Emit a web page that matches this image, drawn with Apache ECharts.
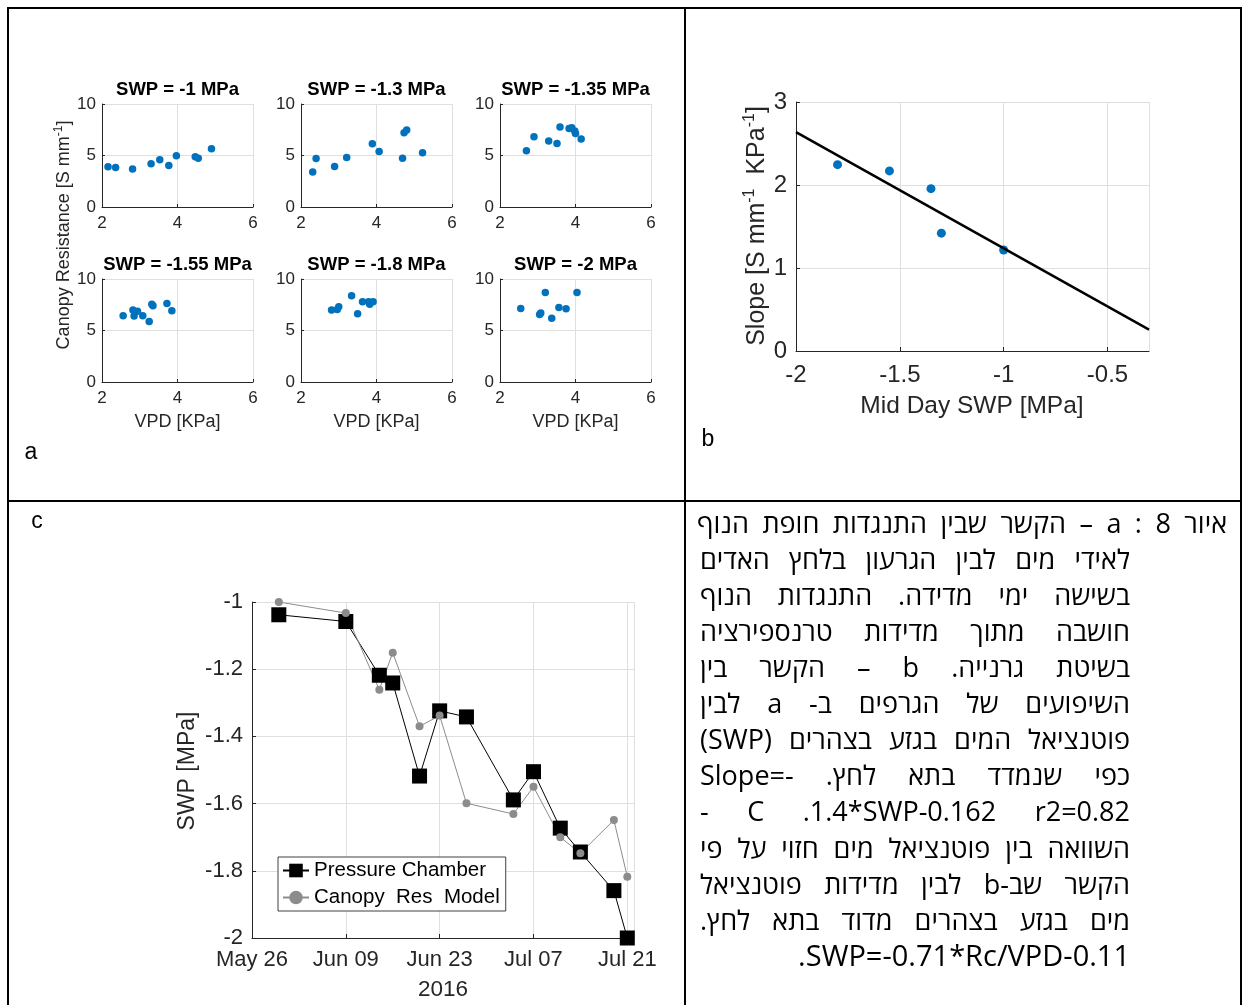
<!DOCTYPE html>
<html>
<head>
<meta charset="utf-8">
<script src="https://cdn.jsdelivr.net/npm/echarts@6/dist/echarts.min.js"></script>
<style>
  html, body { margin: 0; padding: 0; background: #fff; }
  #main { width: 1242px; height: 1005px; }
</style>
</head>
<body>
<div id="main"></div>
<script>
var FONT = 'Liberation Sans, Arial, sans-serif';
var HEB_FONT = '"Open Sans", "DejaVu Sans", sans-serif';
var INK = '#262626';
var GRIDC = '#dfdfdf';
var BLUE = '#0072BD';

// panel a: VPD [KPa] vs canopy resistance, one pair per measuring day
var aTitles = ['SWP = -1 MPa', 'SWP = -1.3 MPa', 'SWP = -1.35 MPa', 'SWP = -1.55 MPa', 'SWP = -1.8 MPa', 'SWP = -2 MPa'];
var vpd1 = [2.16, 2.36, 2.81, 3.30, 3.53, 3.77, 3.97, 4.47, 4.55, 4.90];
var rc1  = [3.90, 3.83, 3.70, 4.19, 4.58, 4.03, 4.97, 4.87, 4.74, 5.65];
var vpd2 = [2.31, 2.40, 2.89, 3.21, 3.89, 4.07, 4.69, 4.73, 4.80, 5.22];
var rc2  = [3.41, 4.71, 3.93, 4.81, 6.14, 5.39, 4.74, 7.21, 7.47, 5.26];
var vpd3 = [2.70, 2.90, 3.29, 3.51, 3.59, 3.83, 3.90, 3.98, 4.00, 4.15];
var rc3  = [5.45, 6.82, 6.40, 6.17, 7.76, 7.63, 7.69, 7.37, 7.14, 6.59];
var vpd4 = [2.56, 2.82, 2.85, 2.94, 3.08, 3.25, 3.32, 3.35, 3.72, 3.85];
var rc4  = [6.43, 6.98, 6.40, 6.88, 6.43, 5.88, 7.56, 7.40, 7.63, 6.92];
var vpd5 = [2.81, 2.96, 3.00, 3.34, 3.50, 3.63, 3.79, 3.82, 3.91];
var rc5  = [6.98, 7.05, 7.31, 8.38, 6.62, 7.79, 7.79, 7.56, 7.79];
var vpd6 = [2.55, 3.05, 3.08, 3.20, 3.37, 3.56, 3.75, 4.04];
var rc6  = [7.14, 6.56, 6.69, 8.70, 6.20, 7.24, 7.11, 8.70];

// panel b: slope of each panel-a relation vs mid day SWP, plus fitted line ends
var bSwp   = [-1.80, -1.55, -1.35, -1.30, -1.00];
var bSlope = [2.245, 2.17, 1.956, 1.42, 1.217];
var fitSwp   = [-2.0, -0.3];
var fitSlope = [2.638, 0.258];

// panel c: SWP from pressure chamber vs canopy resistance model
var cStart = '2016-05-26';
var cDates = ['2016-05-30', '2016-06-09', '2016-06-14', '2016-06-16', '2016-06-20', '2016-06-23', '2016-06-27',
              '2016-07-04', '2016-07-07', '2016-07-11', '2016-07-14', '2016-07-19', '2016-07-21'];
var cChamber = [-1.038, -1.058, -1.218, -1.241, -1.518, -1.324, -1.342, -1.589, -1.505, -1.673, -1.744, -1.859, -2.0];
var cModel   = [-1.000, -1.033, -1.261, -1.151, -1.370, -1.338, -1.599, -1.631, -1.550, -1.700, -1.748, -1.649, -1.818];
var cTickLabels = ['May 26', 'Jun 09', 'Jun 23', 'Jul 07', 'Jul 21'];

// caption (each line in reading order, right to left)
var captionLines = [
  ['איור', '8', ':', 'a', '–', 'הקשר', 'שבין', 'התנגדות', 'חופת', 'הנוף'],
  ['לאידי', 'מים', 'לבין', 'הגרעון', 'בלחץ', 'האדים'],
  ['בשישה', 'ימי', 'מדידה.', 'התנגדות', 'הנוף'],
  ['חושבה', 'מתוך', 'מדידות', 'טרנספירציה'],
  ['בשיטת', 'גרנייה.', 'b', '–', 'הקשר', 'בין'],
  ['השיפועים', 'של', 'הגרפים', 'ב-', 'a', 'לבין'],
  ['פוטנציאל', 'המים', 'בגזע', 'בצהרים', '(SWP)'],
  ['כפי', 'שנמדד', 'בתא', 'לחץ.', 'Slope=-'],
  ['r2=0.82', '.1.4*SWP-0.162', 'C', '-'],
  ['השוואה', 'בין', 'פוטנציאל', 'מים', 'חזוי', 'על', 'פי'],
  ['הקשר', 'שב-b', 'לבין', 'מדידות', 'פוטנציאל'],
  ['מים', 'בגזע', 'בצהרים', 'מדוד', 'בתא', 'לחץ.'],
  ['SWP=-0.71*Rc/VPD-0.11.']
];

var chartDom = document.getElementById('main');
var myChart = echarts.init(chartDom, null, { renderer: 'canvas' });

var aX = [vpd1, vpd2, vpd3, vpd4, vpd5, vpd6];
var aY = [rc1, rc2, rc3, rc4, rc5, rc6];
var aBoxes = [[102, 104], [301, 104], [500, 104], [102, 279], [301, 279], [500, 279]];

var grids = [], xAxes = [], yAxes = [], series = [], graphics = [];

aBoxes.forEach(function (b, i) {
  grids.push({ left: b[0], top: b[1], width: 151, height: 103 });
  xAxes.push({
    gridIndex: i, type: 'value', min: 2, max: 6, interval: 2,
    axisLine: { onZero: false, lineStyle: { color: INK } },
    axisTick: { inside: true, length: 3, lineStyle: { color: INK } },
    axisLabel: { color: INK, fontSize: 17, fontFamily: FONT, margin: 8 },
    splitLine: { show: true, lineStyle: { color: GRIDC } }
  });
  yAxes.push({
    gridIndex: i, type: 'value', min: 0, max: 10, interval: 5,
    axisLine: { show: true, onZero: false, lineStyle: { color: INK } },
    axisTick: { show: true, inside: true, length: 3, lineStyle: { color: INK } },
    axisLabel: { color: INK, fontSize: 17, fontFamily: FONT, margin: 6 },
    splitLine: { show: true, lineStyle: { color: GRIDC } }
  });
  series.push({
    type: 'scatter', xAxisIndex: i, yAxisIndex: i,
    data: aX[i].map(function (v, k) { return [v, aY[i][k]]; }),
    symbolSize: 7.5, itemStyle: { color: BLUE, opacity: 1 }, silent: true
  });
  graphics.push({
    type: 'text', x: b[0] + 75.5, y: b[1] - 14,
    style: { text: aTitles[i], fill: '#000', fontSize: 18.5, fontWeight: 'bold', fontFamily: FONT,
             textAlign: 'center', textVerticalAlign: 'middle' }
  });
  if (i >= 3) {
    graphics.push({
      type: 'text', x: b[0] + 75.5, y: 422,
      style: { text: 'VPD [KPa]', fill: INK, fontSize: 18, fontFamily: FONT,
               textAlign: 'center', textVerticalAlign: 'middle' }
    });
  }
});

// panel b
grids.push({ left: 796, top: 102, width: 353, height: 249 });
xAxes.push({
  gridIndex: 6, type: 'value', min: -2, max: -0.3, interval: 0.5,
  axisLine: { onZero: false, lineStyle: { color: INK } },
  axisTick: { inside: true, length: 4, lineStyle: { color: INK } },
  axisLabel: { color: INK, fontSize: 24, fontFamily: FONT, margin: 12, showMaxLabel: false },
  splitLine: { show: true, lineStyle: { color: GRIDC } }
});
yAxes.push({
  gridIndex: 6, type: 'value', min: 0, max: 3, interval: 1,
  axisLine: { show: true, onZero: false, lineStyle: { color: INK } },
  axisTick: { show: true, inside: true, length: 4, lineStyle: { color: INK } },
  axisLabel: { color: INK, fontSize: 24, fontFamily: FONT, margin: 9 },
  splitLine: { show: true, lineStyle: { color: GRIDC } }
});
series.push({
  type: 'line', xAxisIndex: 6, yAxisIndex: 6, showSymbol: false, silent: true,
  data: fitSwp.map(function (v, k) { return [v, fitSlope[k]]; }),
  lineStyle: { color: '#000', width: 2.5 }
});
series.push({
  type: 'scatter', xAxisIndex: 6, yAxisIndex: 6, silent: true,
  data: bSwp.map(function (v, k) { return [v, bSlope[k]]; }),
  symbolSize: 9, itemStyle: { color: BLUE, opacity: 1 }
});

// panel c
var DAY = 86400000;
var t0 = Date.parse(cStart);
var cDays = cDates.map(function (d) { return Math.round((Date.parse(d) - t0) / DAY); });
grids.push({ left: 252, top: 602, width: 382, height: 336 });
xAxes.push({
  gridIndex: 7, type: 'value', min: 0, max: 57, interval: 14,
  axisLine: { onZero: false, lineStyle: { color: INK } },
  axisTick: { inside: true, length: 4, lineStyle: { color: INK } },
  axisLabel: {
    color: INK, fontSize: 22, fontFamily: FONT, margin: 11, showMaxLabel: false,
    formatter: function (v) { return v % 14 === 0 ? cTickLabels[v / 14] : ''; }
  },
  splitLine: { show: true, lineStyle: { color: GRIDC } }
});
yAxes.push({
  gridIndex: 7, type: 'value', min: -2, max: -1, interval: 0.2,
  axisLine: { show: true, onZero: false, lineStyle: { color: INK } },
  axisTick: { show: true, inside: true, length: 4, lineStyle: { color: INK } },
  axisLabel: { color: INK, fontSize: 22, fontFamily: FONT, margin: 9 },
  splitLine: { show: true, lineStyle: { color: GRIDC } }
});
series.push({
  name: 'Pressure Chamber', type: 'line', xAxisIndex: 7, yAxisIndex: 7, silent: true,
  data: cDays.map(function (d, k) { return [d, cChamber[k]]; }),
  symbol: 'rect', symbolSize: 15, showAllSymbol: true, clip: false,
  lineStyle: { color: '#000', width: 1 }, itemStyle: { color: '#000' }
});
series.push({
  name: 'Canopy  Res  Model', type: 'line', xAxisIndex: 7, yAxisIndex: 7, silent: true,
  data: cDays.map(function (d, k) { return [d, cModel[k]]; }),
  symbol: 'circle', symbolSize: 8, showAllSymbol: true, clip: false,
  lineStyle: { color: '#8c8c8c', width: 1 }, itemStyle: { color: '#8c8c8c' }
});

// table borders
graphics.push({ type: 'rect', shape: { x: 8, y: 8, width: 1233, height: 1010 },
  style: { fill: 'none', stroke: '#000', lineWidth: 2 }, z: 100 });
graphics.push({ type: 'line', shape: { x1: 685, y1: 8, x2: 685, y2: 1010 },
  style: { stroke: '#000', lineWidth: 2 }, z: 100 });
graphics.push({ type: 'line', shape: { x1: 8, y1: 501, x2: 1241, y2: 501 },
  style: { stroke: '#000', lineWidth: 2 }, z: 100 });

// axis names and panel letters
function txt(x, y, text, size, extra) {
  var st = { text: text, fill: INK, fontSize: size, fontFamily: FONT, textAlign: 'center', textVerticalAlign: 'middle' };
  for (var k in (extra || {})) st[k] = extra[k];
  return { type: 'text', x: x, y: y, style: st };
}
var g1 = txt(64, 235, 'Canopy Resistance [S mm{sup|-1}]', 18, { rich: { sup: { fontSize: 12, padding: [0, 0, 10, 0], fill: INK, fontFamily: FONT } } });
g1.rotation = Math.PI / 2; graphics.push(g1);
var g2 = txt(757, 226, 'Slope [S mm{sup|-1}  KPa{sup|-1}]', 25, { rich: { sup: { fontSize: 16, padding: [0, 0, 14, 0], fill: INK, fontFamily: FONT } } });
g2.rotation = Math.PI / 2; graphics.push(g2);
graphics.push(txt(972, 406, 'Mid Day SWP [MPa]', 24.5));
var g3 = txt(188, 771, 'SWP [MPa]', 23);
g3.rotation = Math.PI / 2; graphics.push(g3);
graphics.push(txt(443, 990, '2016', 22.5));
graphics.push(txt(31, 453, 'a', 23, { fill: '#000' }));
graphics.push(txt(708, 440, 'b', 23, { fill: '#000' }));
graphics.push(txt(37, 522, 'c', 23, { fill: '#000' }));

// caption, justified right to left
var HEB_SIZE = 27;
var mctx = document.createElement('canvas').getContext('2d');
mctx.font = HEB_SIZE + 'px ' + HEB_FONT;
function needsRtl(t) { return /[\u0590-\u05FF]/.test(t) || (t.charAt(t.length - 1) === '.' && t.charAt(0) !== '.'); }
captionLines.forEach(function (words, li) {
  var right = li === 0 ? 1227 : 1130;
  var left = li === 0 ? 697 : 700;
  var y = 525 + li * 36.1;
  var last = li === captionLines.length - 1;
  var size = last ? 29 : HEB_SIZE;
  mctx.font = size + 'px ' + HEB_FONT;
  var shown = words.map(function (w) { return needsRtl(w) ? '\u202B' + w + '\u202C' : w; });
  var widths = shown.map(function (w) { return mctx.measureText(w).width; });
  var total = widths.reduce(function (a, b) { return a + b; }, 0);
  var gap = (!last && words.length > 1) ? (right - left - total) / (words.length - 1) : mctx.measureText(' ').width;
  var x = right;
  shown.forEach(function (w, k) {
    graphics.push({ type: 'text', x: x, y: y,
      style: { text: w, fill: '#000', fontSize: size, fontFamily: HEB_FONT, textAlign: 'right', textVerticalAlign: 'middle' } });
    x -= widths[k] + gap;
  });
});

var option = {
  animation: false,
  backgroundColor: '#fff',
  grid: grids,
  xAxis: xAxes,
  yAxis: yAxes,
  legend: {
    data: ['Pressure Chamber', 'Canopy  Res  Model'],
    left: 278, top: 857, orient: 'vertical',
    itemWidth: 26, itemHeight: 17, itemGap: 6,
    padding: [3, 6, 3, 4],
    backgroundColor: '#fff', borderColor: '#404040', borderWidth: 1,
    textStyle: { color: '#000', fontSize: 20.5, fontFamily: FONT }
  },
  series: series,
  graphic: graphics
};

myChart.setOption(option);
</script>
</body>
</html>
